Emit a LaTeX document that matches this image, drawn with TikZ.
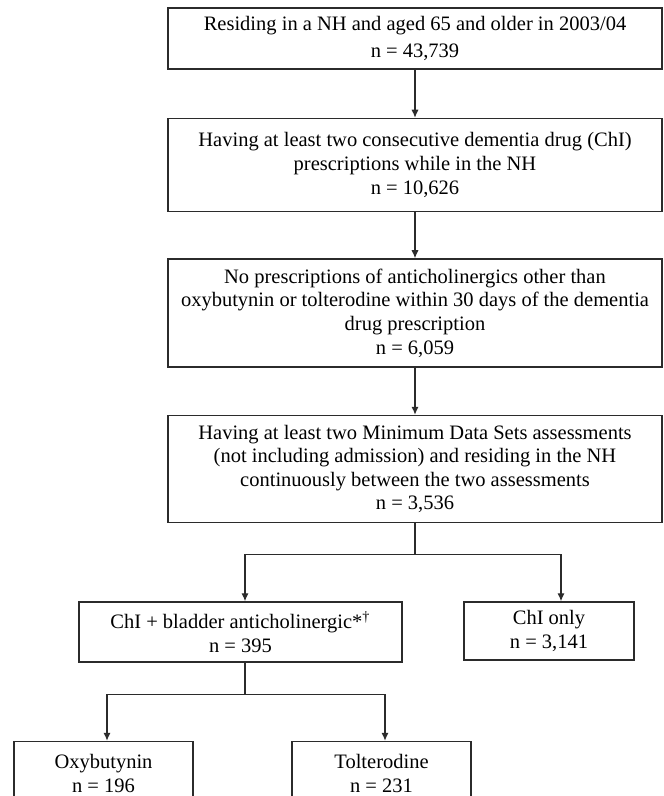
\documentclass[tikz,border=0pt]{standalone}
\usepackage{fontspec}
\setmainfont{Liberation Serif}
\definecolor{linegray}{HTML}{2B2B2B}
\usetikzlibrary{arrows.meta, positioning}

\begin{document}
\begin{tikzpicture}[
  box/.style = {rectangle, draw = linegray, line width = 0.75pt, align = center, inner sep = 1pt, font = \fontsize{10.25pt}{11.8pt}\selectfont},
  arr/.style = {-{Latex[length=4pt, width=3.6pt]}, draw = linegray, line width = 0.6pt}]
\useasboundingbox (0,0) rectangle (331.5pt,-398pt);
\clip (0,0) rectangle (331.5pt,-398pt);
\node[box, minimum width = 247pt, minimum height = 30.5pt] (res) at (207.5pt,-19.25pt) {Residing in a NH and aged 65 and older in 2003/04 \\[2pt] n = 43,739};
\node[box, minimum width = 247pt, minimum height = 46.5pt, below = 24pt of res] (chi) {Having at least two consecutive dementia drug (ChI) \\ prescriptions while in the NH \\ n = 10,626};
\node[box, minimum width = 247pt, minimum height = 54pt, below = 23pt of chi] (noac) {No prescriptions of anticholinergics other than \\ oxybutynin or tolterodine within 30 days of the dementia \\ drug prescription \\ n = 6,059};
\node[box, minimum width = 247pt, minimum height = 53.5pt, below = 23.5pt of noac] (mds) {Having at least two Minimum Data Sets assessments \\ (not including admission) and residing in the NH \\ continuously between the two assessments \\ n = 3,536};
\node[box, minimum width = 161.5pt, minimum height = 30pt, below = 39pt of mds, xshift = -87.25pt] (both) {ChI + bladder anticholinergic*\textsuperscript{†} \\ n = 395};
\node[box, minimum width = 85pt, minimum height = 29pt, below = 39pt of mds, xshift = 67pt] (only) {ChI only \\ n = 3,141};
\node[box, minimum width = 89.5pt, minimum height = 32pt, below = 39pt of both, xshift = -68.5pt] (oxy) {Oxybutynin \\ n = 196};
\node[box, minimum width = 89.5pt, minimum height = 32pt, below = 39pt of both, xshift = 70.5pt] (tol) {Tolterodine \\ n = 231};
\draw[arr] (res) -- (chi);
\draw[arr] (chi) -- (noac);
\draw[arr] (noac) -- (mds);
\draw[arr] (mds.south) -- ++(0,-15.5pt) coordinate (fork1) -| ([xshift = 2.25pt]both.north);
\draw[arr] (fork1) -| ([xshift = 6pt]only.north);
\draw[arr] ([xshift = 2.25pt]both.south) -- ++(0,-16pt) coordinate (fork2) -| ([xshift = 1.75pt]oxy.north);
\draw[arr] (fork2) -| ([xshift = 1.75pt]tol.north);
\end{tikzpicture}
\end{document}
